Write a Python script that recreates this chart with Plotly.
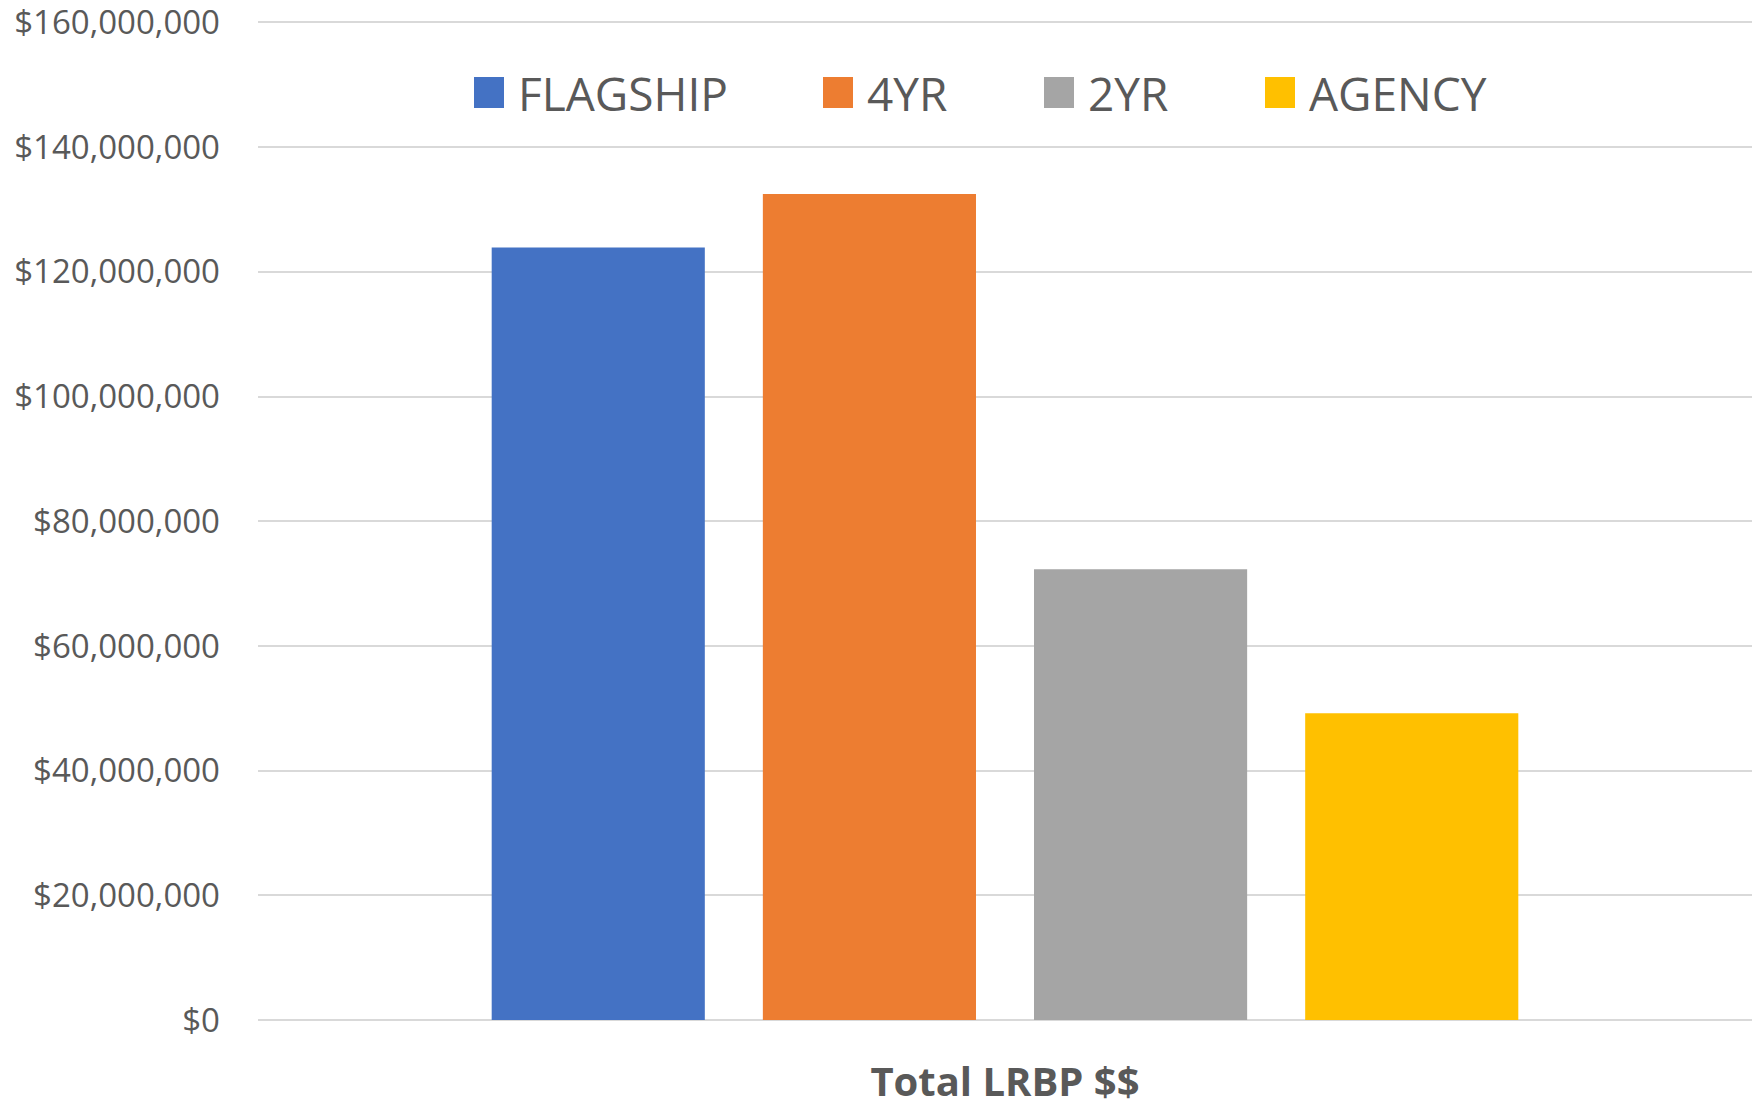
import plotly.graph_objects as go

# data
category = ["Total LRBP $$"]
series_names = ["FLAGSHIP", "4YR", "2YR", "AGENCY"]
series_values = [123_900_000, 132_500_000, 72_300_000, 49_200_000]
series_colors = ["#4472C4", "#ED7D31", "#A5A5A5", "#FFC000"]

# layout in pixels (figure is 1759 x 1107)
W, H = 1759, 1107
ML, MR, MT, MB = 258, 7, 20, 87
PW, PH = W - ML - MR, H - MT - MB
TEXT = "#595959"
GRID = "#D9D9D9"


def px_x(x):
    return (x - ML) / PW


def px_y(y):
    return 1 - (y - MT) / PH


fig = go.Figure()
for name, val, col in zip(series_names, series_values, series_colors):
    fig.add_trace(go.Bar(
        x=category, y=[val], name=name,
        marker=dict(color=col, line=dict(width=0)),
        showlegend=False,
    ))

# Excel-style legend with large square swatches
legend_left = [474, 823, 1044, 1265]
for name, col, x0 in zip(series_names, series_colors, legend_left):
    fig.add_shape(
        type="rect", xref="paper", yref="paper",
        x0=px_x(x0), x1=px_x(x0 + 30), y0=px_y(108), y1=px_y(77),
        fillcolor=col, line=dict(width=0),
    )
    fig.add_annotation(
        xref="paper", yref="paper", x=px_x(x0 + 42), y=px_y(93),
        xanchor="left", yanchor="middle", showarrow=False,
        text=name, font=dict(family="Open Sans", size=46, color=TEXT),
    )

fig.update_layout(
    width=W, height=H,
    margin=dict(l=ML, r=MR, t=MT, b=MB),
    barmode="group", bargap=0.274, bargroupgap=0.214,
    plot_bgcolor="white", paper_bgcolor="white",
    font=dict(family="Open Sans", color=TEXT),
)
fig.update_xaxes(
    range=[-0.5, 0.5], showgrid=False, showline=False, automargin=False,
    tickfont=dict(family="Open Sans", size=40, color=TEXT, weight="bold"),
    ticklabelstandoff=35, ticklabeloverflow="allow",
)
fig.update_yaxes(
    range=[0, 160_400_000], tick0=0, dtick=20_000_000,
    tickprefix="$", tickformat=",d",
    showgrid=True, gridcolor=GRID, gridwidth=2,
    zeroline=True, zerolinecolor=GRID, zerolinewidth=2,
    showline=False, automargin=False,
    tickfont=dict(family="Open Sans", size=33, color=TEXT),
    ticklabelstandoff=37, ticklabeloverflow="allow",
)

fig.write_html(
    "out.html",
    config={"displayModeBar": False},
    post_script="document.body.style.margin = '0';",
)
